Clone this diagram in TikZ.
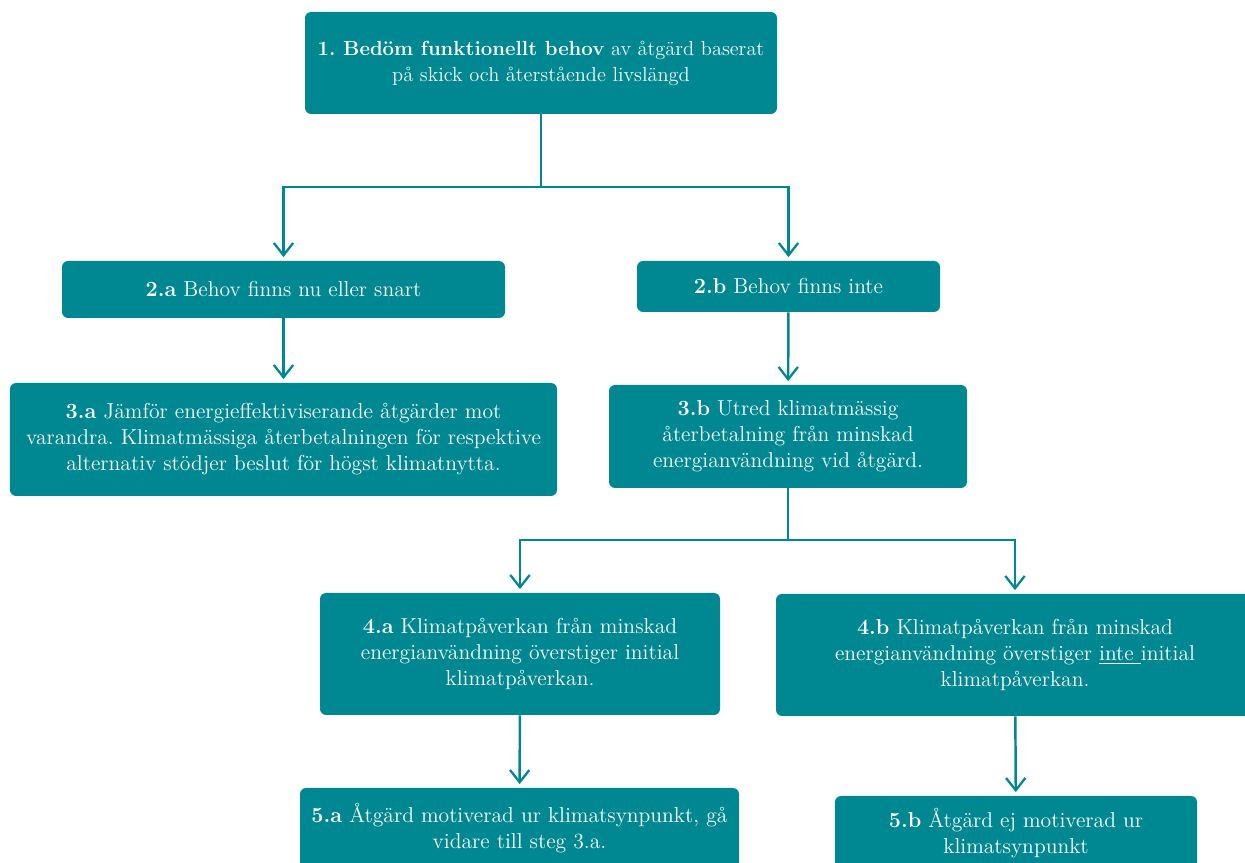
\documentclass[tikz,border=0pt]{standalone}
\usepackage{tikz}
\usetikzlibrary{arrows.meta, positioning, calc}
\usepackage{xcolor}
\definecolor{tealbox}{RGB}{0, 136, 146}
\frenchspacing

\begin{document}
\begin{tikzpicture}[
  every node/.style={font=\fontsize{12.3}{14.8}\selectfont},
  flow/.style={rectangle, rounded corners=3.5pt, draw=none, fill=tealbox,
               text=white, align=center, inner sep=2pt},
  arr/.style={-{Straight Barb[length=7pt, width=11pt, line width=1.3pt]},
              line width=1.4pt, draw=tealbox, shorten >=2pt}
]
\useasboundingbox (0,0) rectangle (24.9,17.26);
\clip (0,0) rectangle (24.9,17.26);

\node[flow, minimum width=9.44cm, minimum height=2.04cm,
      font=\fontsize{11.6}{14.8}\selectfont] (need) at (10.82,16.00)
  {\textbf{1. Bedöm funktionellt behov} av åtgärd baserat\\ på skick och återstående livslängd};

\node[flow, minimum width=8.86cm, minimum height=1.14cm] (yes2) at (5.67,11.47)
  {\textbf{2.a} Behov finns nu eller snart};
\node[flow, minimum width=6.06cm, minimum height=1.02cm] (no2)  at (15.77,11.53)
  {\textbf{2.b} Behov finns inte};

\node[flow, minimum width=10.94cm, minimum height=2.26cm] (cmp3) at (5.67,8.47)
  {\textbf{3.a} Jämför energieffektiviserande åtgärder mot\\ varandra. Klimatmässiga återbetalningen för respektive\\ alternativ stödjer beslut för högst klimatnytta.};
\node[flow, minimum width=7.16cm, minimum height=2.06cm] (inv3) at (15.76,8.53)
  {\textbf{3.b} Utred klimatmässig\\ återbetalning från minskad\\ energianvändning vid åtgärd.};

\node[flow, minimum width=8.00cm, minimum height=2.44cm] (yes4) at (10.40,4.18)
  {\textbf{4.a} Klimatpåverkan från minskad\\ energianvändning överstiger initial\\ klimatpåverkan.};
\node[flow, minimum width=9.56cm, minimum height=2.44cm] (no4)  at (20.30,4.16)
  {\textbf{4.b} Klimatpåverkan från minskad\\ energianvändning överstiger \underline{inte\ }initial\\ klimatpåverkan.};

\node[flow, minimum width=8.78cm, minimum height=1.62cm] (yes5) at (10.39,0.69)
  {\textbf{5.a} Åtgärd motiverad ur klimatsynpunkt, gå\\ vidare till steg 3.a.};
\node[flow, minimum width=7.24cm, minimum height=1.48cm] (no5)  at (20.32,0.60)
  {\textbf{5.b} Åtgärd ej motiverad ur\\ klimatsynpunkt};

% split points
\coordinate (split1) at (10.82,13.52);
\coordinate (split3) at (15.76,6.46);

\draw[arr] (need.south) -- (split1) -| (yes2.north);
\draw[arr] (split1) -| (no2.north);
\draw[arr] (yes2) -- (cmp3);
\draw[arr] (no2)  -- (inv3);
\draw[arr] (inv3.south) -- (split3) -| (yes4.north);
\draw[arr] (split3) -| (no4.north);
\draw[arr] (yes4) -- (yes5);
\draw[arr] (no4)  -- (no5);
\end{tikzpicture}
\end{document}
